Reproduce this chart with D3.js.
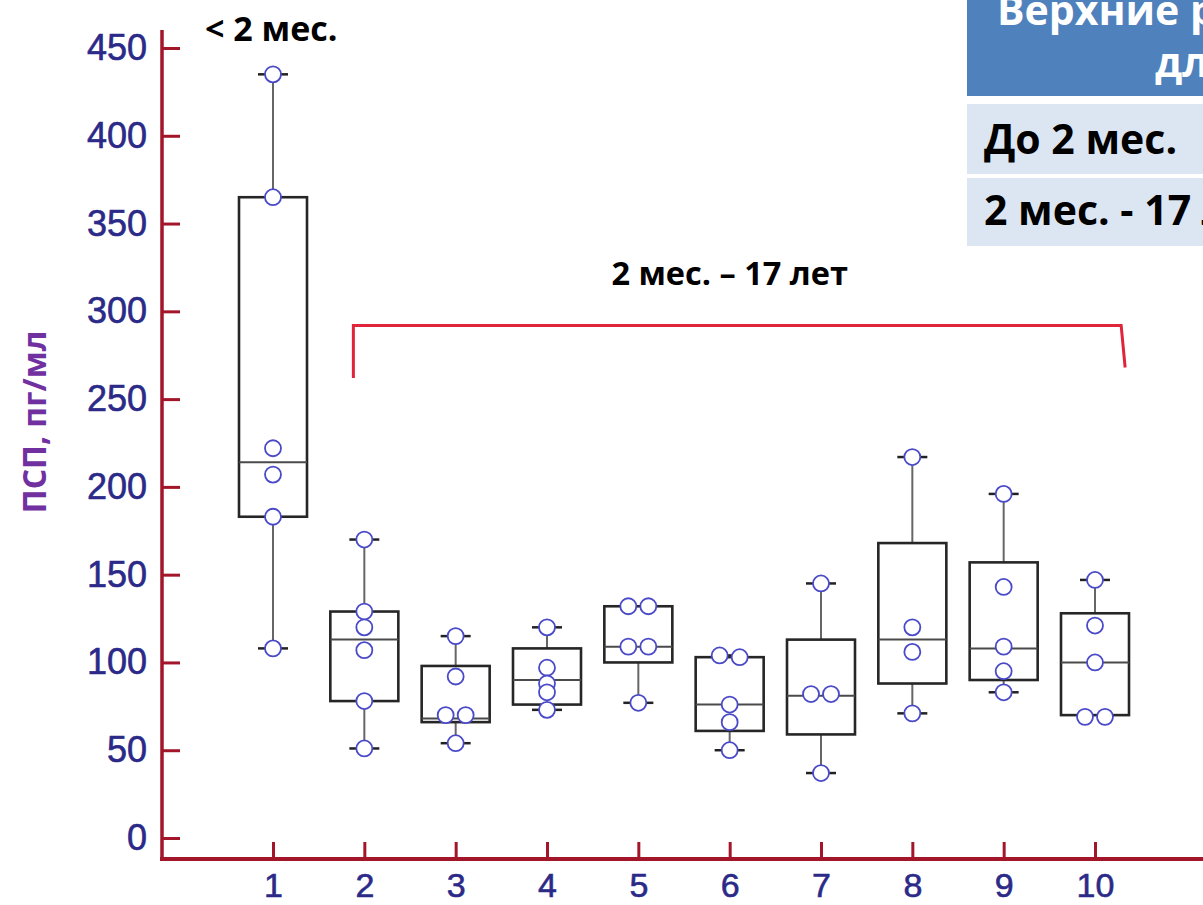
<!DOCTYPE html>
<html>
<head>
<meta charset="utf-8">
<script src="https://cdn.jsdelivr.net/npm/d3@7"></script>
<style>
  html, body { margin: 0; padding: 0; background: #fff; }
  svg { display: block; }
</style>
</head>
<body>
<svg id="chart" width="1203" height="905"></svg>
<script>
// Age groups on the x axis
const categories = [1, 2, 3, 4, 5, 6, 7, 8, 9, 10];

// Box statistics per group, pg/ml
const whiskerLow  = [108, 51, 54, 73, 77, 50, 37, 71, 83, 70];
const q1          = [183, 78, 66, 76, 100, 61, 59, 88, 90, 70];
const median      = [214, 113, 68, 90, 109, 76, 81, 113, 108, 100];
const q3          = [365, 129, 98, 108, 132, 103, 113, 168, 157, 128];
const whiskerHigh = [435, 170, 115, 120, 132, 104, 145, 217, 196, 147];

// Individual measurements per group
const points = [
  [435, 365, 222, 207, 183, 108],
  [170, 129, 120, 107, 78, 51],
  [115, 92, 70, 70, 54],
  [120, 97, 88, 83, 73],
  [132, 132, 109, 109, 77],
  [104, 103, 76, 66, 50],
  [145, 82, 82, 37],
  [217, 120, 106, 71],
  [196, 143, 109, 95, 83],
  [147, 121, 100, 69, 69]
];

// Axis ticks
const yTicks = [0, 50, 100, 150, 200, 250, 300, 350, 400, 450];

// Annotations
const groupLabelYoung = "< 2 мес.";
const groupLabelOlder = "2 мес. – 17 лет";
const bracketFrom = 1.88, bracketTo = 10.33;     // category units
const bracketLevel = 292, bracketLegs = [262, 268]; // pg/ml

// Reference table
const tableHeader = ["Верхние референсные значения ПСП", "для детей, пг/мл"];
const tableRows = ["До 2 мес.", "2 мес. - 17 лет"];

const svg = d3.select("#chart");

const x = d3.scaleLinear().domain([1, 10]).range([273, 1095]);
const y = d3.scaleLinear().domain([0, 450]).range([838, 48]);

const axisColor = "#a3162a";
const tickText = "#2b2a88";
const axisX = 162, axisY = 859;
const tickFont = "'Liberation Sans', Arial, sans-serif";

// ---- axes ----
const yAxis = d3.axisLeft(y).tickValues(yTicks).tickSizeInner(-18).tickSizeOuter(0).tickPadding(15);
const gy = svg.append("g").attr("transform", `translate(${axisX},0)`).call(yAxis);
gy.select(".domain").remove();
gy.selectAll(".tick line").attr("stroke", axisColor).attr("stroke-width", 3);
gy.selectAll(".tick text")
  .attr("fill", tickText)
  .attr("stroke", tickText).attr("stroke-width", 0.6)
  .style("font-family", tickFont)
  .style("font-size", "36px");

const xAxis = d3.axisBottom(x).tickValues(categories).tickSizeInner(-17).tickSizeOuter(0).tickPadding(14);
const gx = svg.append("g").attr("transform", `translate(0,${axisY})`).call(xAxis);
gx.select(".domain").remove();
gx.selectAll(".tick line").attr("stroke", axisColor).attr("stroke-width", 3);
gx.selectAll(".tick text")
  .attr("fill", tickText)
  .attr("stroke", tickText).attr("stroke-width", 0.6)
  .style("font-family", tickFont)
  .style("font-size", "34px");

svg.append("line")
  .attr("x1", axisX).attr("x2", axisX).attr("y1", 30).attr("y2", axisY + 2)
  .attr("stroke", axisColor).attr("stroke-width", 3.5);
svg.append("line")
  .attr("x1", axisX - 2).attr("x2", 1203).attr("y1", axisY).attr("y2", axisY)
  .attr("stroke", axisColor).attr("stroke-width", 4);

// y axis title
svg.append("text")
  .attr("transform", `translate(46,${y(237)}) rotate(-90)`)
  .attr("text-anchor", "middle")
  .attr("fill", "#7030a0")
  .style("font-family", "'Open Sans', sans-serif")
  .style("font-weight", "bold")
  .style("font-size", "32px")
  .text("ПСП, пг/мл");

// ---- boxes ----
const boxW = 68, capW = 30;
const data = categories.map((c, i) => ({
  c, lo: whiskerLow[i], q1: q1[i], med: median[i], q3: q3[i], hi: whiskerHigh[i], pts: points[i]
}));

const g = svg.append("g");

// whiskers
data.forEach(d => {
  if (d.hi > d.q3) {
    g.append("line").attr("x1", x(d.c)).attr("x2", x(d.c)).attr("y1", y(d.q3)).attr("y2", y(d.hi))
      .attr("stroke", "#666").attr("stroke-width", 2);
    g.append("line").attr("x1", x(d.c) - capW / 2).attr("x2", x(d.c) + capW / 2).attr("y1", y(d.hi)).attr("y2", y(d.hi))
      .attr("stroke", "#222").attr("stroke-width", 2.5);
  }
  if (d.lo < d.q1) {
    g.append("line").attr("x1", x(d.c)).attr("x2", x(d.c)).attr("y1", y(d.q1)).attr("y2", y(d.lo))
      .attr("stroke", "#666").attr("stroke-width", 2);
    g.append("line").attr("x1", x(d.c) - capW / 2).attr("x2", x(d.c) + capW / 2).attr("y1", y(d.lo)).attr("y2", y(d.lo))
      .attr("stroke", "#222").attr("stroke-width", 2.5);
  }
});

// boxes
g.selectAll("rect.box").data(data).join("rect")
  .attr("class", "box")
  .attr("x", d => x(d.c) - boxW / 2)
  .attr("width", boxW)
  .attr("y", d => y(d.q3))
  .attr("height", d => y(d.q1) - y(d.q3))
  .attr("fill", "none")
  .attr("stroke", "#262626")
  .attr("stroke-width", 2.6);

// medians
g.selectAll("line.med").data(data).join("line")
  .attr("class", "med")
  .attr("x1", d => x(d.c) - boxW / 2).attr("x2", d => x(d.c) + boxW / 2)
  .attr("y1", d => y(d.med)).attr("y2", d => y(d.med))
  .attr("stroke", "#4a4a4a").attr("stroke-width", 2);

// points: values sharing nearly the same height are spread side by side
const dots = [];
data.forEach(d => {
  const sorted = d.pts.slice().sort((a, b) => b - a);
  const groups = [];
  sorted.forEach(v => {
    const last = groups[groups.length - 1];
    if (last && Math.abs(y(last[last.length - 1]) - y(v)) < 6) last.push(v);
    else groups.push([v]);
  });
  groups.forEach(grp => grp.forEach((v, k) => {
    dots.push({ cx: x(d.c) + (k - (grp.length - 1) / 2) * 20, v });
  }));
});
g.selectAll("circle.pt").data(dots).join("circle")
  .attr("class", "pt")
  .attr("cx", d => d.cx)
  .attr("cy", d => y(d.v))
  .attr("r", 8)
  .attr("fill", "#fff")
  .attr("stroke", "#4a4ac8")
  .attr("stroke-width", 1.8);

// ---- group annotations ----
const annoFont = "'Open Sans', sans-serif";
svg.append("text")
  .attr("x", x(1) - 68).attr("y", 41)
  .attr("fill", "#000")
  .style("font-family", annoFont).style("font-weight", "bold").style("font-size", "34px")
  .text(groupLabelYoung);

svg.append("text")
  .attr("x", x(6)).attr("y", y(bracketLevel) - 40)
  .attr("text-anchor", "middle")
  .attr("fill", "#000")
  .style("font-family", annoFont).style("font-weight", "bold").style("font-size", "32.5px")
  .text(groupLabelOlder);

svg.append("path")
  .attr("d", d3.line()([
    [x(bracketFrom), y(bracketLegs[0])],
    [x(bracketFrom), y(bracketLevel)],
    [x(bracketTo) - 4, y(bracketLevel)],
    [x(bracketTo), y(bracketLegs[1])]
  ]))
  .attr("fill", "none")
  .attr("stroke", "#e0243a")
  .attr("stroke-width", 3);

// ---- reference table ----
const tx = 967;
const tbl = svg.append("g");
tbl.append("rect").attr("x", tx).attr("y", 0).attr("width", 1203 - tx).attr("height", 96).attr("fill", "#4f81bd");
tbl.append("rect").attr("x", tx).attr("y", 104).attr("width", 1203 - tx).attr("height", 70).attr("fill", "#dce6f2");
tbl.append("rect").attr("x", tx).attr("y", 178).attr("width", 1203 - tx).attr("height", 68).attr("fill", "#dce6f2");

tbl.append("text").attr("x", 997).attr("y", 25)
  .attr("fill", "#fff")
  .style("font-family", annoFont).style("font-weight", "bold").style("font-size", "41px")
  .text(tableHeader[0]);
tbl.append("text").attr("x", 1155).attr("y", 77)
  .attr("fill", "#fff")
  .style("font-family", annoFont).style("font-weight", "bold").style("font-size", "41px")
  .text(tableHeader[1]);

tbl.selectAll("text.row").data(tableRows).join("text")
  .attr("class", "row")
  .attr("x", 984)
  .attr("y", (d, i) => [154, 225][i])
  .attr("fill", "#000")
  .style("font-family", annoFont).style("font-weight", "bold").style("font-size", "41px")
  .text(d => d);
</script>
</body>
</html>
